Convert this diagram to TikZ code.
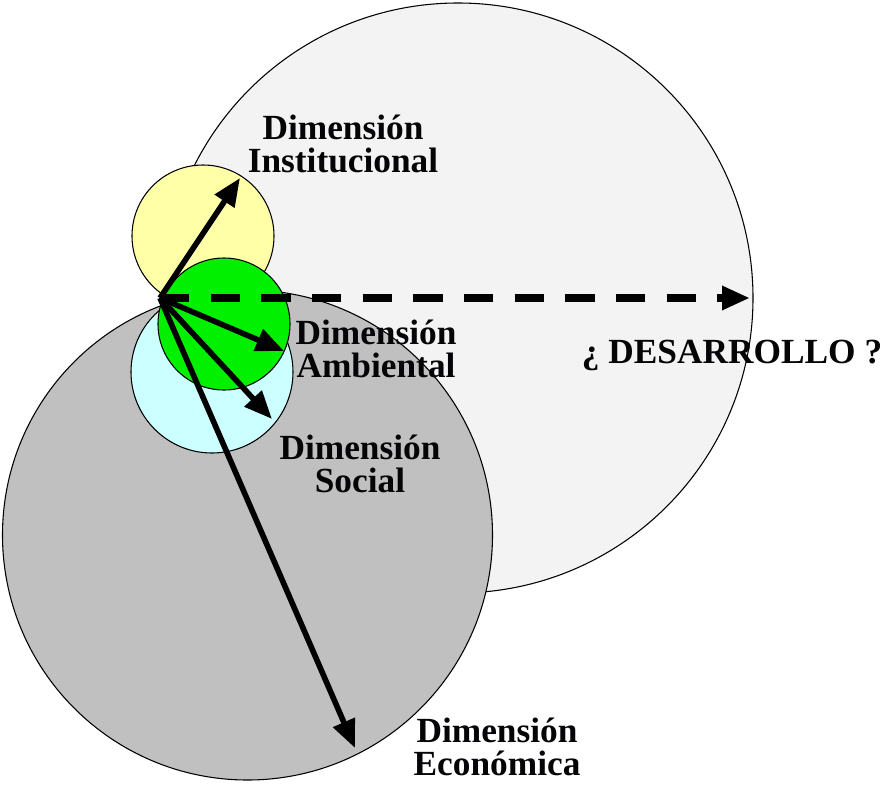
\documentclass[tikz,border=0pt]{standalone}
\usepackage{fontspec}
\setmainfont{Liberation Serif}
\usetikzlibrary{arrows.meta}

\definecolor{devgray}{HTML}{F3F3F3}
\definecolor{ecogray}{HTML}{C0C0C0}
\definecolor{socialcyan}{HTML}{CCFFFF}
\definecolor{instyellow}{HTML}{FFFFA8}
\definecolor{ambgreen}{HTML}{00F000}
\definecolor{inkblack}{HTML}{050508}

\begin{document}
\begin{tikzpicture}[x=0.75pt,y=-0.75pt,
    dimcircle/.style={circle,draw=black,line width=0.8pt,inner sep=0pt,outer sep=0pt},
    vector/.style={line width=4.2pt,-{Triangle[length=21pt,width=17pt]}},
    dimlabel/.style={font=\fontsize{26.5}{25}\selectfont\bfseries,align=center,text=inkblack}]

    \useasboundingbox (0,0) rectangle (896,785);

    % circles
    \node[dimcircle,fill=devgray,minimum size=442.5pt] (desarrollo) at (458,298) {};
    \node[dimcircle,fill=ecogray,minimum size=367.5pt] (economica) at (247.5,535) {};
    \node[dimcircle,fill=socialcyan,minimum size=121.5pt] (social) at (212,372) {};
    \node[dimcircle,fill=instyellow,minimum size=106.5pt] (institucional) at (203,236) {};
    \node[dimcircle,fill=ambgreen,minimum size=99pt] (ambiental) at (224,324) {};

    % label
    \node[dimlabel] (lbinst) at (343,144) {Dimensión\\Institucional};
    \node[dimlabel] (lbamb) at (376,349) {Dimensión\\Ambiental};
    \node[dimlabel] (lbsoc) at (360,464) {Dimensión\\Social};
    \node[dimlabel] (lbeco) at (497,747) {Dimensión\\Económica};
    \node[dimlabel] (lbdes) at (732,355) {¿ DESARROLLO ?};

    % vectors
    \coordinate (o) at (160,298);
    \coordinate (tinst) at (240,178);
    \coordinate (tamb) at (284,351);
    \coordinate (tsoc) at (272,419);
    \coordinate (teco) at (355,748);
    \coordinate (tdes) at (750,298);

    \draw[vector] (o) -- (tinst);
    \draw[vector] (o) -- (tamb);
    \draw[vector] (o) -- (tsoc);
    \draw[vector] (o) -- (teco);
    \draw[line width=5.5pt,dash pattern=on 22pt off 16pt,-{Triangle[length=21pt,width=17pt]}] (o) -- (tdes);
\end{tikzpicture}
\end{document}
